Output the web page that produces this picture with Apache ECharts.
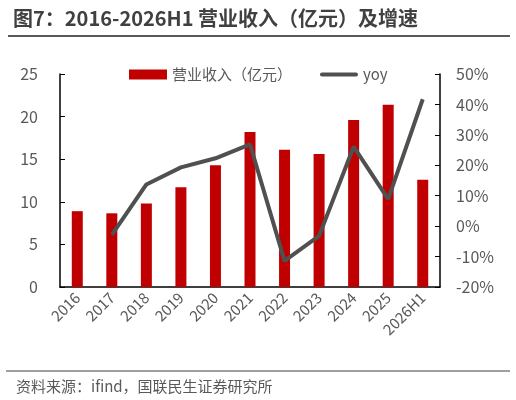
<!DOCTYPE html>
<html>
<head>
<meta charset="utf-8">
<script src="https://cdn.jsdelivr.net/npm/echarts@6/dist/echarts.min.js"></script>
<style>
  html, body { margin: 0; padding: 0; background: #fff; }
  #main { width: 516px; height: 400px; }
</style>
</head>
<body>
<div id="main"></div>
<script>
// 营业收入及增速
var years = ['2016', '2017', '2018', '2019', '2020', '2021', '2022', '2023', '2024', '2025', '2026H1'];
var revenue = [8.9, 8.65, 9.8, 11.7, 14.3, 18.2, 16.1, 15.6, 19.6, 21.4, 12.6];
var yoy = [null, -2.9, 13.7, 19.3, 22.3, 26.9, -11.4, -3.2, 26.1, 8.9, 41.7];

var font = '"Noto Sans CJK SC", "Microsoft YaHei", sans-serif';
var chart = echarts.init(document.getElementById('main'));
var option = {
  animation: false,
  textStyle: { fontFamily: font },
  title: {
    text: '图7：2016-2026H1 营业收入（亿元）及增速',
    left: 8,
    top: 3,
    textStyle: { fontSize: 20, fontWeight: 'bold', color: '#404040', fontFamily: font }
  },
  graphic: [
    { type: 'line', shape: { x1: 8, y1: 36, x2: 510, y2: 36 }, style: { stroke: '#595959', lineWidth: 2 } },
    { type: 'line', shape: { x1: 6, y1: 371, x2: 510, y2: 371 }, style: { stroke: '#7f7f7f', lineWidth: 1.5 } },
    { type: 'text', left: 16, top: 379, style: { text: '资料来源：ifind，国联民生证券研究所', fontSize: 15, fill: '#595959', fontFamily: font } }
  ],
  legend: {
    left: 124,
    top: 62,
    itemGap: 28,
    itemWidth: 38,
    itemHeight: 10,
    textStyle: { fontSize: 15, color: '#595959', fontFamily: font },
    data: [
      { name: '营业收入（亿元）', icon: 'rect' },
      { name: 'yoy', icon: 'path://M2,0 L38,0 A2,2 0 0 1 38,4 L2,4 A2,2 0 0 1 2,0 Z', itemStyle: { color: '#505050' } }
    ]
  },
  grid: { left: 60, right: 76, top: 74, bottom: 113 },
  xAxis: {
    type: 'category',
    data: years,
    axisLine: { lineStyle: { color: '#000', width: 1.5 } },
    axisTick: { show: false },
    axisLabel: { rotate: 45, fontSize: 15, color: '#595959', margin: 8, interval: 0 }
  },
  yAxis: [{
    type: 'value',
    min: 0,
    max: 25,
    interval: 5,
    splitLine: { show: false },
    axisLine: { show: true, lineStyle: { color: '#000', width: 1.5 } },
    axisTick: { show: true, inside: true, length: 5, lineStyle: { color: '#000' } },
    axisLabel: { fontSize: 16, color: '#595959', margin: 22 }
  }, {
    type: 'value',
    min: -20,
    max: 50,
    interval: 10,
    splitLine: { show: false },
    axisLine: { show: true, lineStyle: { color: '#000', width: 1.5 } },
    axisTick: { show: true, inside: true, length: 5, lineStyle: { color: '#000' } },
    axisLabel: { fontSize: 16, color: '#595959', margin: 16, formatter: '{value}%' }
  }],
  series: [{
    name: '营业收入（亿元）',
    type: 'bar',
    data: revenue,
    barWidth: 11,
    itemStyle: { color: '#C00000' }
  }, {
    name: 'yoy',
    type: 'line',
    yAxisIndex: 1,
    data: yoy,
    symbol: 'none',
    lineStyle: { color: '#505050', width: 4 },
    itemStyle: { color: '#505050' }
  }]
};
chart.setOption(option);
</script>
</body>
</html>
